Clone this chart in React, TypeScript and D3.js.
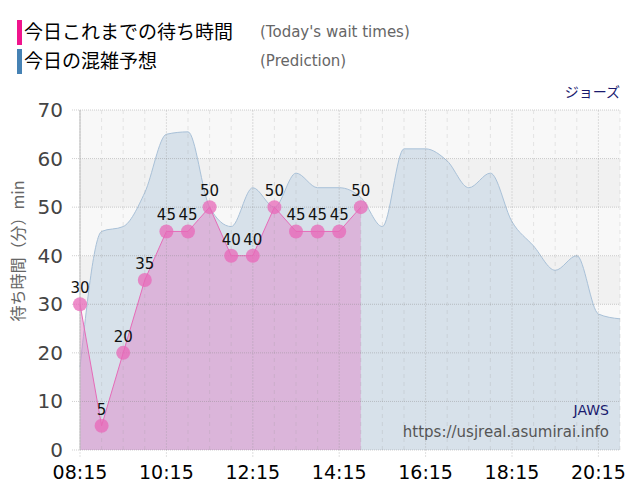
import React, { useRef, useEffect } from "react";
import * as d3 from "d3";

// today's observed wait times (every 30 min from 08:15)
const actualTimes = ["08:15", "08:45", "09:15", "09:45", "10:15", "10:45", "11:15", "11:45", "12:15", "12:45", "13:15", "13:45", "14:15", "14:45"];
const actualValues = [30, 5, 20, 35, 45, 45, 50, 40, 40, 50, 45, 45, 45, 50];

// prediction curve
const predTimes = ["08:15", "08:45", "09:15", "09:45", "10:15", "10:45", "11:15", "11:45", "12:15", "12:45", "13:15", "13:45", "14:15", "14:45", "15:15", "15:45", "16:15", "16:45", "17:15", "17:45", "18:15", "18:45", "19:15", "19:45", "20:15", "20:45"];
const predValues = [17, 45, 46, 53, 65, 65.5, 50, 46, 54, 50, 57, 54, 54, 52, 46, 62, 62, 59.5, 54, 57, 47, 42, 37, 40, 28, 27];

const xTickLabels = ["08:15", "10:15", "12:15", "14:15", "16:15", "18:15", "20:15"];
const yTicks = [0, 10, 20, 30, 40, 50, 60, 70];

const toMin = (s: string) => {
  const [h, m] = s.split(":").map(Number);
  return h * 60 + m;
};

const App: React.FC = () => {
  const svgRef = useRef<SVGSVGElement | null>(null);

  useEffect(() => {
    const W = 640;
    const H = 500;
    const m = { left: 80, right: 20, top: 110, bottom: 50 };
    const svg = d3.select(svgRef.current).attr("width", W).attr("height", H);
    svg.selectAll("*").remove();

    const x = d3
      .scaleLinear()
      .domain([toMin("08:15"), toMin("20:45")])
      .range([m.left, W - m.right]);
    const y = d3.scaleLinear().domain([0, 70]).range([H - m.bottom, m.top]);

    const font = "Verdana, 'DejaVu Sans', sans-serif";
    const jp = "'Noto Sans CJK JP', sans-serif";

    // background bands
    for (let v = 0; v < 70; v += 10) {
      svg
        .append("rect")
        .attr("x", x.range()[0])
        .attr("width", x.range()[1] - x.range()[0])
        .attr("y", y(v + 10))
        .attr("height", y(v) - y(v + 10))
        .attr("fill", (v / 10) % 2 === 0 ? "#f8f8f8" : "#f1f1f1");
    }

    // prediction area
    const pred = predTimes.map((t, i) => ({ t: toMin(t), v: predValues[i] }));
    const predArea = d3
      .area<{ t: number; v: number }>()
      .x((d) => x(d.t))
      .y0(y(0))
      .y1((d) => y(d.v))
      .curve(d3.curveMonotoneX);
    const predLine = d3
      .line<{ t: number; v: number }>()
      .x((d) => x(d.t))
      .y((d) => y(d.v))
      .curve(d3.curveMonotoneX);
    svg.append("path").datum(pred).attr("d", predArea).attr("fill", "#d7e1ea");
    svg
      .append("path")
      .datum(pred)
      .attr("d", predLine)
      .attr("fill", "none")
      .attr("stroke", "#a9c1d8")
      .attr("stroke-width", 1);

    // actual area
    const act = actualTimes.map((t, i) => ({ t: toMin(t), v: actualValues[i] }));
    const actArea = d3
      .area<{ t: number; v: number }>()
      .x((d) => x(d.t))
      .y0(y(0))
      .y1((d) => y(d.v));
    const actLine = d3
      .line<{ t: number; v: number }>()
      .x((d) => x(d.t))
      .y((d) => y(d.v));
    svg
      .append("path")
      .datum(act)
      .attr("d", actArea)
      .attr("fill", "#e080c8")
      .attr("fill-opacity", 0.45);
    svg
      .append("path")
      .datum(act)
      .attr("d", actLine)
      .attr("fill", "none")
      .attr("stroke", "#e66bb8")
      .attr("stroke-width", 1);

    // grid drawn on top, faint
    const grid = svg.append("g");
    for (let t = toMin("08:15"); t <= toMin("20:45"); t += 30) {
      const major = (t - toMin("08:15")) % 120 === 0;
      grid
        .append("line")
        .attr("x1", x(t))
        .attr("x2", x(t))
        .attr("y1", y(70))
        .attr("y2", y(0) + (major ? 8 : 0))
        .attr("stroke", "#999")
        .attr("stroke-opacity", major ? 0.3 : 0.22)
        .attr("stroke-width", 1)
        .attr("stroke-dasharray", major ? "2,1" : "4,4");
    }
    yTicks.forEach((v) => {
      grid
        .append("line")
        .attr("x1", x.range()[0] - 8)
        .attr("x2", x.range()[1])
        .attr("y1", y(v))
        .attr("y2", y(v))
        .attr("stroke", "#888")
        .attr("stroke-opacity", 0.4)
        .attr("stroke-dasharray", "1,1");
    });

    // y axis line
    svg
      .append("line")
      .attr("x1", x.range()[0])
      .attr("x2", x.range()[0])
      .attr("y1", y(70))
      .attr("y2", y(0))
      .attr("stroke", "#bbbbbb");

    // points + labels
    const pts = svg.append("g");
    act.forEach((d) => {
      pts
        .append("circle")
        .attr("cx", x(d.t))
        .attr("cy", y(d.v))
        .attr("r", 7)
        .attr("fill", "#e868b8")
        .attr("fill-opacity", 0.75);
      pts
        .append("text")
        .attr("x", x(d.t))
        .attr("y", y(d.v) - 11)
        .attr("text-anchor", "middle")
        .style("font-family", font)
        .style("font-size", "15px")
        .attr("fill", "#111")
        .text(d.v);
    });

    // y tick labels
    yTicks.forEach((v) => {
      svg
        .append("text")
        .attr("x", 63)
        .attr("y", y(v) + 7)
        .attr("text-anchor", "end")
        .style("font-family", font)
        .style("font-size", "20px")
        .attr("fill", "#444")
        .text(v);
    });

    // x tick labels
    xTickLabels.forEach((t) => {
      svg
        .append("text")
        .attr("x", x(toMin(t)))
        .attr("y", 479)
        .attr("text-anchor", "middle")
        .style("font-family", "'DejaVu Sans', Verdana, sans-serif")
        .style("font-size", "19px")
        .attr("fill", "#000")
        .text(t);
    });

    // y axis title
    svg
      .append("text")
      .attr("transform", "translate(24,251) rotate(-90)")
      .attr("text-anchor", "middle")
      .style("font-family", jp)
      .style("font-size", "16px")
      .attr("fill", "#666")
      .text("待ち時間（分）min");

    // legend
    const legend = [
      { color: "#f0148c", jp: "今日これまでの待ち時間", en: "(Today's wait times)", y: 20 },
      { color: "#4682b4", jp: "今日の混雑予想", en: "(Prediction)", y: 49 },
    ];
    legend.forEach((l) => {
      svg.append("rect").attr("x", 17).attr("y", l.y).attr("width", 5).attr("height", 25).attr("fill", l.color);
      svg
        .append("text")
        .attr("x", 24)
        .attr("y", l.y + 19)
        .style("font-family", jp)
        .style("font-size", "19px")
        .attr("fill", "#000")
        .text(l.jp);
      svg
        .append("text")
        .attr("x", 260)
        .attr("y", l.y + 17)
        .style("font-family", font)
        .style("font-size", "15px")
        .attr("fill", "#666")
        .text(l.en);
    });

    // titles
    svg
      .append("text")
      .attr("x", 620)
      .attr("y", 97)
      .attr("text-anchor", "end")
      .style("font-family", jp)
      .style("font-size", "14px")
      .attr("fill", "#1a1a6e")
      .text("ジョーズ");
    svg
      .append("text")
      .attr("x", 609)
      .attr("y", 415)
      .attr("text-anchor", "end")
      .style("font-family", font)
      .style("font-size", "14px")
      .attr("fill", "#1a1a6e")
      .text("JAWS");
    svg
      .append("text")
      .attr("x", 609)
      .attr("y", 437)
      .attr("text-anchor", "end")
      .style("font-family", font)
      .style("font-size", "15px")
      .attr("fill", "#555")
      .text("https://usjreal.asumirai.info");
  }, []);

  return (
    <div style={{ margin: -8 }}>
      <svg ref={svgRef} style={{ display: "block", background: "#fff" }}></svg>
    </div>
  );
};

export default App;
